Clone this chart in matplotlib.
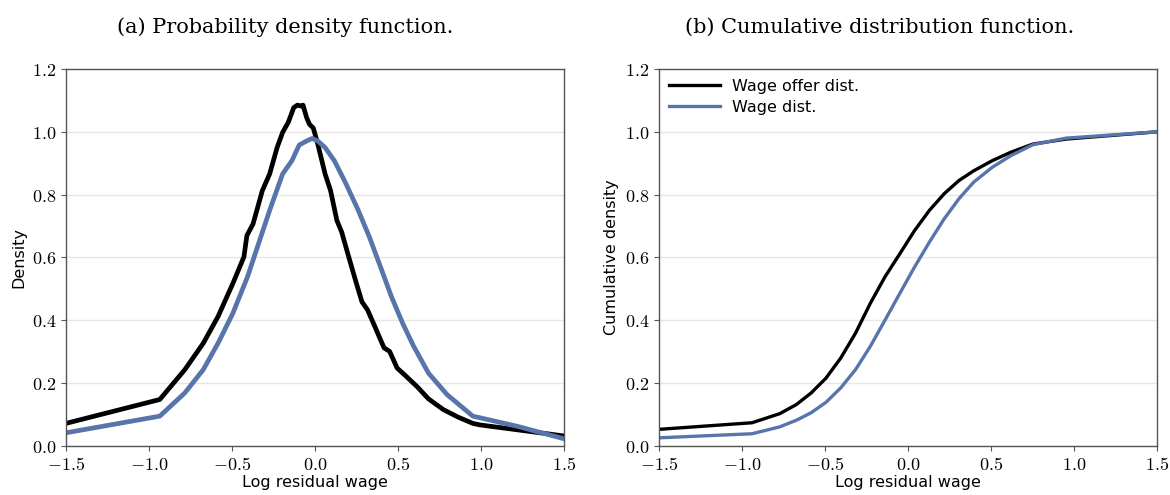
import matplotlib
matplotlib.use('Agg')
import matplotlib.pyplot as plt
from matplotlib.ticker import FuncFormatter
import numpy as np

plt.rcParams['mathtext.fontset'] = 'cm'

# pdf of log residual wage
pdf_offer_x = [-1.5, -0.935, -0.784, -0.673, -0.584, -0.495, -0.428, -0.41, -0.373, -0.317,
               -0.273, -0.228, -0.195, -0.161, -0.128, -0.106, -0.083, -0.072, -0.05, -0.033,
               -0.01, 0.017, 0.061, 0.094, 0.132, 0.161, 0.206, 0.25, 0.283, 0.317,
               0.361, 0.395, 0.417, 0.45, 0.495, 0.539, 0.617, 0.684, 0.773, 0.862,
               0.951, 0.995, 1.5]
pdf_offer_y = [0.072, 0.148, 0.243, 0.327, 0.412, 0.517, 0.602, 0.67, 0.707, 0.813,
               0.866, 0.95, 0.998, 1.03, 1.077, 1.085, 1.082, 1.085, 1.045, 1.024,
               1.012, 0.961, 0.866, 0.813, 0.718, 0.681, 0.597, 0.517, 0.459, 0.433,
               0.38, 0.338, 0.312, 0.301, 0.248, 0.227, 0.188, 0.15, 0.116, 0.092,
               0.072, 0.067, 0.032]
pdf_wage_x = [-1.5, -0.935, -0.784, -0.673, -0.584, -0.495, -0.406, -0.34, -0.273, -0.195,
              -0.139, -0.095, -0.05, -0.017, 0.017, 0.061, 0.117, 0.183, 0.261, 0.328,
              0.395, 0.461, 0.528, 0.595, 0.684, 0.795, 0.951, 1.217, 1.5]
pdf_wage_y = [0.042, 0.095, 0.169, 0.243, 0.327, 0.422, 0.539, 0.644, 0.75, 0.866,
              0.908, 0.958, 0.971, 0.979, 0.971, 0.95, 0.908, 0.839, 0.75, 0.665,
              0.57, 0.475, 0.391, 0.317, 0.232, 0.164, 0.095, 0.063, 0.023]

# cdf
cdf_x = [-1.5, -0.939, -0.772, -0.672, -0.583, -0.494, -0.405, -0.316, -0.227, -0.138,
         -0.049, 0.04, 0.129, 0.218, 0.307, 0.396, 0.507, 0.619, 0.752, 0.953, 1.5]
cdf_offer = [0.053, 0.074, 0.103, 0.132, 0.169, 0.216, 0.28, 0.359, 0.454, 0.539,
             0.612, 0.686, 0.75, 0.803, 0.845, 0.876, 0.908, 0.935, 0.961, 0.977, 1.0]
cdf_wage = [0.026, 0.039, 0.061, 0.082, 0.106, 0.139, 0.185, 0.243, 0.317, 0.401,
            0.486, 0.57, 0.649, 0.723, 0.787, 0.84, 0.887, 0.924, 0.959, 0.98, 1.0]

blue = '#5875ab'
xticks = [-1.5, -1.0, -0.5, 0.0, 0.5, 1.0, 1.5]
yticks = [0.0, 0.2, 0.4, 0.6, 0.8, 1.0, 1.2]

fig = plt.figure(figsize=(11.7, 4.95), dpi=100)
ax1 = fig.add_axes([0.0564, 0.099, 0.4256, 0.7616])
ax2 = fig.add_axes([0.5632, 0.099, 0.4257, 0.7616])

ax1.plot(pdf_offer_x, pdf_offer_y, color='black', lw=3.4, solid_joinstyle='round', label='Wage offer dist.')
ax1.plot(pdf_wage_x, pdf_wage_y, color=blue, lw=3.4, solid_joinstyle='round', label='Wage dist.')
ax2.plot(cdf_x, cdf_offer, color='black', lw=2.4, label='Wage offer dist.')
ax2.plot(cdf_x, cdf_wage, color=blue, lw=2.4, label='Wage dist.')

fmt = FuncFormatter(lambda v, p: r'$%.1f$' % v)
for ax in (ax1, ax2):
    ax.set_xlim(-1.5, 1.5)
    ax.set_ylim(0, 1.2)
    ax.set_xticks(xticks)
    ax.set_yticks(yticks)
    ax.xaxis.set_major_formatter(fmt)
    ax.yaxis.set_major_formatter(fmt)
    ax.tick_params(labelsize=13, color='#555555', length=3.5)
    ax.grid(axis='y', color='#e6e6e6', lw=1)
    ax.set_axisbelow(True)
    for s in ax.spines.values():
        s.set_color('#555555')
        s.set_linewidth(1.0)
    ax.set_xlabel('Log residual wage', fontsize=11.5, labelpad=1)

ax1.set_ylabel('Density', fontsize=11.5, labelpad=4)
ax2.set_ylabel('Cumulative density', fontsize=11.5, labelpad=4)
# captions centred on each half of the figure
fig.text(0.2436, 0.945, '(a) Probability density function.', family='DejaVu Serif',
         fontsize=15, ha='center', va='center')
fig.text(0.7521, 0.945, '(b) Cumulative distribution function.', family='DejaVu Serif',
         fontsize=15, ha='center', va='center')

ax2.legend(loc='upper left', frameon=False, fontsize=11.5, handlelength=3.2,
           borderaxespad=0.2, labelspacing=0.4)

fig.savefig('out.png', dpi=100)
